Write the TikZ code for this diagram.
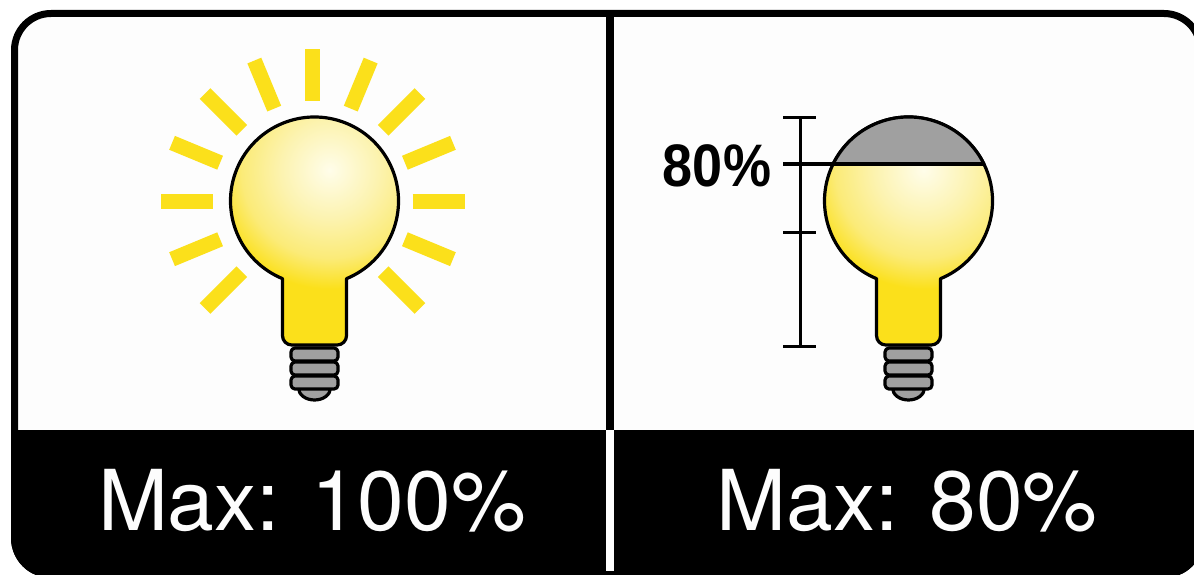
\documentclass[tikz,border=0pt]{standalone}
\usepackage{fontspec}
\setmainfont{TeX Gyre Heros}
\newfontfamily\labelfont[FakeStretch=0.9]{Liberation Sans Bold}

\definecolor{panelwhite}{HTML}{FDFDFD}
\definecolor{rayyellow}{HTML}{FBE01B}
\definecolor{domegray}{HTML}{A0A0A0}
\definecolor{glowa}{HTML}{FFFDEA}
\definecolor{glowb}{HTML}{FCF3B0}
\definecolor{glowc}{HTML}{FBEB78}

\pgfdeclareradialshading{bulbglow}{\pgfpointorigin}{
  color(0bp)=(glowa); color(5.5bp)=(glowb); color(10bp)=(glowc);
  color(13.5bp)=(rayyellow); color(50bp)=(rayyellow)}

\tikzset{
  outline/.style={draw=black, line width=2.4pt, line join=round},
  bulb/.pic={
    % Glass and neck
    \begin{scope}
      \clip (-32,77.66) arc[start angle=112.4, end angle=427.6, radius=84]
        {[rounded corners=7pt] -- (32,144) -- (-32,144)} -- cycle;
      \shade[shading=bulbglow] (15,-31) circle (220);
    \end{scope}
    \draw[outline] (-32,77.66) arc[start angle=112.4, end angle=427.6, radius=84]
      {[rounded corners=7pt] -- (32,144) -- (-32,144)} -- cycle;
    % Screw base
    \draw[outline, fill=domegray] (-16,187) arc[start angle=180, end angle=0, x radius=16, y radius=12] -- cycle;
    \foreach \ytop in {147,161,175}
      \draw[outline, fill=domegray, rounded corners=3pt] (-23.5,\ytop) rectangle (23.5,\ytop+13);
  }
}

\begin{document}
\begin{tikzpicture}[
    x=0.75pt, y=-0.75pt,
    ray/.style={draw=rayyellow, line width=11.25pt},
    rule/.style={draw=black, line width=2.25pt},
    caption/.style={text=panelwhite, font=\fontsize{63}{63}\selectfont, anchor=base, inner sep=0pt},
    pctlabel/.style={font=\labelfont\fontsize{45}{45}\selectfont, anchor=base, inner sep=0pt}
]
\clip (0,0) rectangle (1194,574);
\fill[white] (0,0) rectangle (1194,574);

% Frame
\draw[draw=black, fill=panelwhite, line width=5.25pt, rounded corners=27.4pt] (14.5,13.5) rectangle (1200.5,574.5);
\begin{scope}
  \clip[rounded corners=30pt] (11,10) rectangle (1204,578);
  \fill[black] (0,430) rectangle (1194,574);
\end{scope}
\fill[black] (606,14) rectangle (614,430);
\fill[panelwhite] (606,430) rectangle (614,571);

% Rays
\foreach \ang in {45,22.5,0,-22.5,-45,-67.5,-90,-112.5,-135,-157.5,180,157.5,135}
  \draw[ray] (312.5,201) ++(\ang:100) -- ++(\ang:52);

% Bulbs
\pic at (314.5,201) {bulb};
\pic at (908.5,201) {bulb};

% Scale
\draw[outline, fill=domegray] (833.1,164) arc[start angle=206.1, end angle=333.9, radius=84] -- cycle;
\draw[rule] (800,118) -- (800,346);
\draw[rule] (783,118) -- (816,118);
\draw[rule] (783,232) -- (816,232);
\draw[rule] (783,346) -- (816,346);
\draw[rule, line width=3pt] (783,164) -- (985,164);

% Labels
\node[pctlabel] (pct) at (717,186) {80\%};
\node[caption] (maxa) at (312,530) {Max: 100\%};
\node[caption] (maxb) at (907,530) {Max: 80\%};
\end{tikzpicture}
\end{document}
